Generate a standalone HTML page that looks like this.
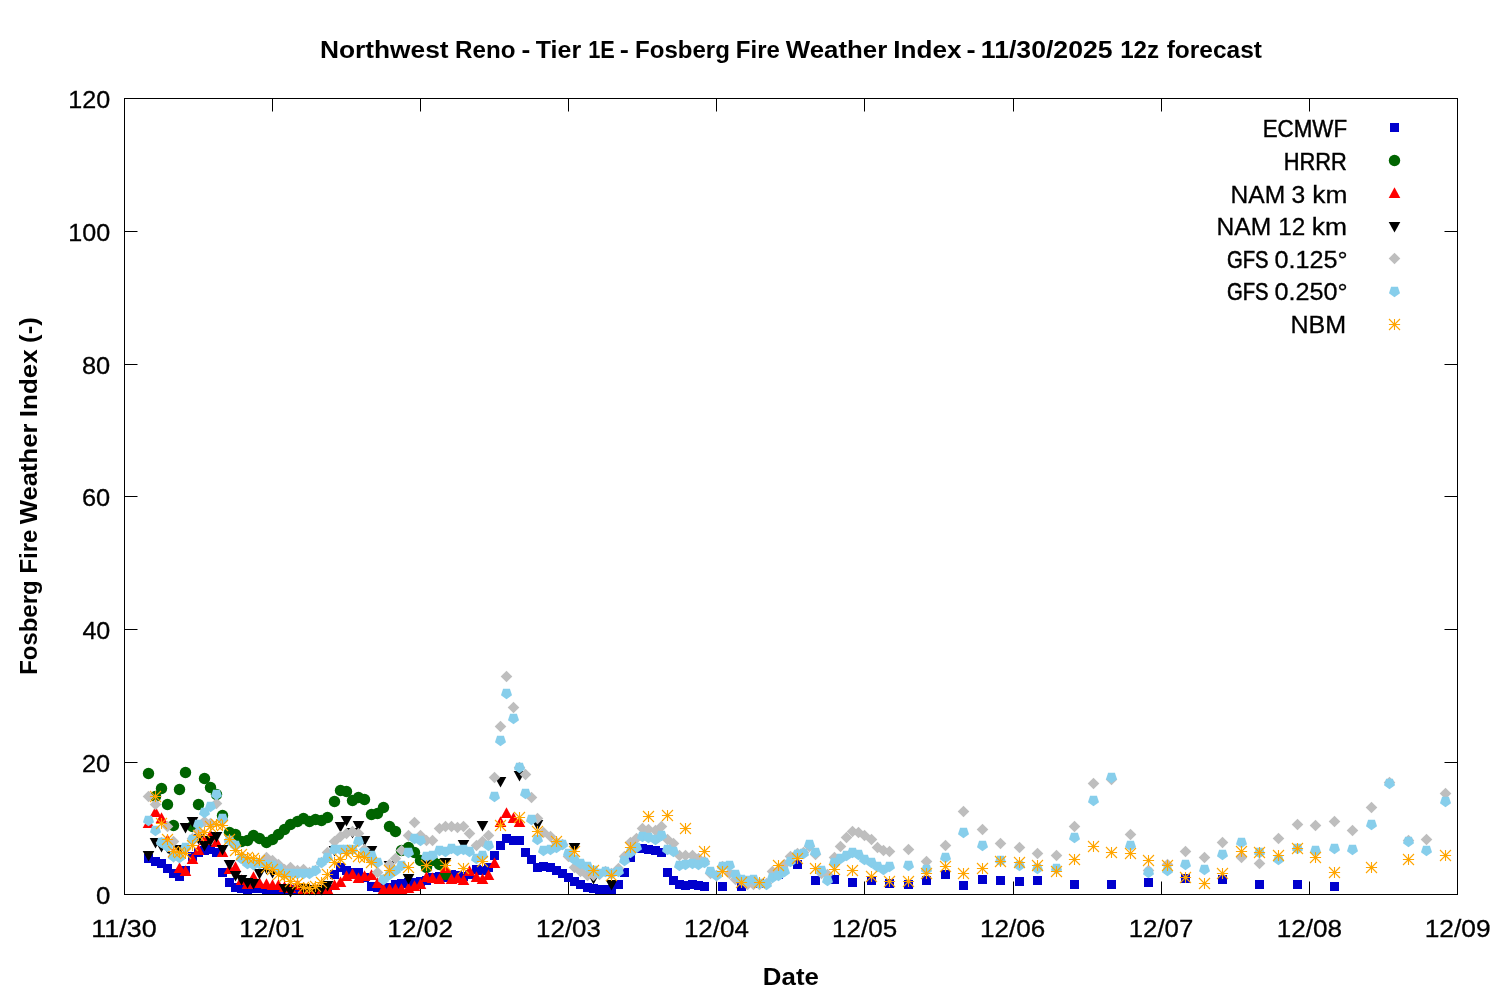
<!DOCTYPE html>
<html lang="en"><head><meta charset="utf-8"><title>Northwest Reno - Tier 1E - Fosberg Fire Weather Index</title>
<style>html,body{margin:0;padding:0;background:#fff;}body{width:1500px;height:1000px;overflow:hidden;}svg{display:block;}text{font-family:"Liberation Sans",sans-serif;fill:#000;stroke:#000;stroke-width:0.3px;}.b{font-weight:bold;stroke:none;}</style></head><body>
<svg width="1500" height="1000" viewBox="0 0 1500 1000">
<rect width="1500" height="1000" fill="#fff"/>
<text class="b" y="58.4" font-size="23.5"><tspan x="319.94" textLength="128.7" lengthAdjust="spacingAndGlyphs">Northwest</tspan> <tspan x="455.08" textLength="60.42" lengthAdjust="spacingAndGlyphs">Reno</tspan> <tspan x="521.5" textLength="8.81" lengthAdjust="spacingAndGlyphs">-</tspan> <tspan x="535.8" textLength="45.3" lengthAdjust="spacingAndGlyphs">Tier</tspan> <tspan x="588.2" textLength="26.62" lengthAdjust="spacingAndGlyphs">1E</tspan> <tspan x="619.8" textLength="9.11" lengthAdjust="spacingAndGlyphs">-</tspan> <tspan x="635.08" textLength="94.83" lengthAdjust="spacingAndGlyphs">Fosberg</tspan> <tspan x="735.89" textLength="43.97" lengthAdjust="spacingAndGlyphs">Fire</tspan> <tspan x="785.8" textLength="101.42" lengthAdjust="spacingAndGlyphs">Weather</tspan> <tspan x="893.24" textLength="68.27" lengthAdjust="spacingAndGlyphs">Index</tspan> <tspan x="966.5" textLength="9.11" lengthAdjust="spacingAndGlyphs">-</tspan> <tspan x="980.82" textLength="131.77" lengthAdjust="spacingAndGlyphs">11/30/2025</tspan> <tspan x="1120.17" textLength="38.85" lengthAdjust="spacingAndGlyphs">12z</tspan> <tspan x="1166.7" textLength="95.22" lengthAdjust="spacingAndGlyphs">forecast</tspan></text>
<text class="b" transform="rotate(-90)" y="36.8" font-size="23.5"><tspan x="-674.81" textLength="94.39" lengthAdjust="spacingAndGlyphs">Fosberg</tspan> <tspan x="-573.61" textLength="43.97" lengthAdjust="spacingAndGlyphs">Fire</tspan> <tspan x="-524.2" textLength="100.66" lengthAdjust="spacingAndGlyphs">Weather</tspan> <tspan x="-417.15" textLength="67.89" lengthAdjust="spacingAndGlyphs">Index</tspan> <tspan x="-342.9" textLength="25.58" lengthAdjust="spacingAndGlyphs">(-)</tspan></text>
<text class="b" y="985.3" font-size="23.5"><tspan x="762.86" textLength="56" lengthAdjust="spacingAndGlyphs">Date</tspan></text>
<text y="903.7" font-size="24.6"><tspan x="96" textLength="14.36" lengthAdjust="spacingAndGlyphs">0</tspan></text>
<text y="771.7" font-size="24.6"><tspan x="82" textLength="28.23" lengthAdjust="spacingAndGlyphs">20</tspan></text>
<text y="638.7" font-size="24.6"><tspan x="82.42" textLength="27.86" lengthAdjust="spacingAndGlyphs">40</tspan></text>
<text y="505.7" font-size="24.6"><tspan x="82" textLength="28.23" lengthAdjust="spacingAndGlyphs">60</tspan></text>
<text y="373.7" font-size="24.6"><tspan x="82" textLength="28.23" lengthAdjust="spacingAndGlyphs">80</tspan></text>
<text y="240.7" font-size="24.6"><tspan x="68.34" textLength="41.89" lengthAdjust="spacingAndGlyphs">100</tspan></text>
<text y="107.7" font-size="24.6"><tspan x="68.34" textLength="41.89" lengthAdjust="spacingAndGlyphs">120</tspan></text>
<text y="936.5" font-size="24.6"><tspan x="91.3" textLength="65.52" lengthAdjust="spacingAndGlyphs">11/30</tspan></text>
<text y="936.5" font-size="24.6"><tspan x="239.39" textLength="65.2" lengthAdjust="spacingAndGlyphs">12/01</tspan></text>
<text y="936.5" font-size="24.6"><tspan x="387.3" textLength="65.7" lengthAdjust="spacingAndGlyphs">12/02</tspan></text>
<text y="936.5" font-size="24.6"><tspan x="536.13" textLength="64.71" lengthAdjust="spacingAndGlyphs">12/03</tspan></text>
<text y="936.5" font-size="24.6"><tspan x="683.92" textLength="65.09" lengthAdjust="spacingAndGlyphs">12/04</tspan></text>
<text y="936.5" font-size="24.6"><tspan x="832.12" textLength="65.11" lengthAdjust="spacingAndGlyphs">12/05</tspan></text>
<text y="936.5" font-size="24.6"><tspan x="979.91" textLength="65.34" lengthAdjust="spacingAndGlyphs">12/06</tspan></text>
<text y="936.5" font-size="24.6"><tspan x="1128.74" textLength="64.54" lengthAdjust="spacingAndGlyphs">12/07</tspan></text>
<text y="936.5" font-size="24.6"><tspan x="1276.71" textLength="65.31" lengthAdjust="spacingAndGlyphs">12/08</tspan></text>
<text y="936.5" font-size="24.6"><tspan x="1424.7" textLength="65.85" lengthAdjust="spacingAndGlyphs">12/09</tspan></text>
<text y="137" font-size="24.6"><tspan x="1262.67" textLength="84.48" lengthAdjust="spacingAndGlyphs" stroke-width="0.45">ECMWF</tspan></text>
<rect x="1390" y="123" width="9" height="9" fill="#0000cd"/>
<text y="169.8" font-size="24.6"><tspan x="1283.71" textLength="63.1" lengthAdjust="spacingAndGlyphs" stroke-width="0.48">HRRR</tspan></text>
<circle cx="1394.5" cy="160.5" r="5.7" fill="#006400"/>
<text y="202.5" font-size="24.6"><tspan x="1230.5" textLength="54.66" lengthAdjust="spacingAndGlyphs">NAM</tspan> <tspan x="1291.5" textLength="13.69" lengthAdjust="spacingAndGlyphs">3</tspan> <tspan x="1312.23" textLength="35.13" lengthAdjust="spacingAndGlyphs">km</tspan></text>
<path d="M1394.5 187.3L1400.3 198L1388.7 198Z" fill="#ff0000"/>
<text y="234.9" font-size="24.6"><tspan x="1216.5" textLength="54.66" lengthAdjust="spacingAndGlyphs">NAM</tspan> <tspan x="1278.15" textLength="27.01" lengthAdjust="spacingAndGlyphs">12</tspan> <tspan x="1311.72" textLength="35.29" lengthAdjust="spacingAndGlyphs">km</tspan></text>
<path d="M1394.5 232.5L1400.3 221.9L1388.7 221.9Z" fill="#000000"/>
<text y="267.5" font-size="24.6"><tspan x="1227" textLength="41.54" lengthAdjust="spacingAndGlyphs" stroke-width="0.59">GFS</tspan> <tspan x="1274.5" textLength="73.17" lengthAdjust="spacingAndGlyphs">0.125°</tspan></text>
<path d="M1394.5 252.7L1400.3 258.5L1394.5 264.3L1388.7 258.5Z" fill="#bebebe"/>
<text y="300" font-size="24.6"><tspan x="1227" textLength="41.54" lengthAdjust="spacingAndGlyphs" stroke-width="0.59">GFS</tspan> <tspan x="1274.5" textLength="73.17" lengthAdjust="spacingAndGlyphs">0.250°</tspan></text>
<path d="M1394.5 297.3L1388.98 293.29L1391.09 286.81L1397.91 286.81L1400.02 293.29Z" fill="#87ceeb"/>
<text y="333" font-size="24.6"><tspan x="1290.5" textLength="55.73" lengthAdjust="spacingAndGlyphs">NBM</tspan></text>
<path d="M1388.9 324.5h11.2M1394.5 318.9v11.2M1389 319l11 11M1389 330l11 -11" stroke="#ffa500" stroke-width="1.1" fill="none"/>
<g stroke="#000" stroke-width="1" fill="none"><path d="M124.5 762.5h13M1457.5 762.5h-13"/><path d="M124.5 629.5h13M1457.5 629.5h-13"/><path d="M124.5 496.5h13M1457.5 496.5h-13"/><path d="M124.5 364.5h13M1457.5 364.5h-13"/><path d="M124.5 231.5h13M1457.5 231.5h-13"/><path d="M272.5 894.5v-13M272.5 98.5v13"/><path d="M420.5 894.5v-13M420.5 98.5v13"/><path d="M568.5 894.5v-13M568.5 98.5v13"/><path d="M716.5 894.5v-13M716.5 98.5v13"/><path d="M864.5 894.5v-13M864.5 98.5v13"/><path d="M1013.5 894.5v-13M1013.5 98.5v13"/><path d="M1161.5 894.5v-13M1161.5 98.5v13"/><path d="M1309.5 894.5v-13M1309.5 98.5v13"/></g>
<rect x="124.5" y="98.5" width="1333" height="796" fill="none" stroke="#000" stroke-width="1" shape-rendering="crispEdges"/>
<g><rect x="144" y="854" width="9" height="9" fill="#0000cd"/><rect x="151" y="857" width="9" height="9" fill="#0000cd"/><rect x="157" y="859" width="9" height="9" fill="#0000cd"/><rect x="163" y="864" width="9" height="9" fill="#0000cd"/><rect x="169" y="869" width="9" height="9" fill="#0000cd"/><rect x="175" y="872" width="9" height="9" fill="#0000cd"/><rect x="181" y="866" width="9" height="9" fill="#0000cd"/><rect x="188" y="852" width="9" height="9" fill="#0000cd"/><rect x="194" y="848" width="9" height="9" fill="#0000cd"/><rect x="200" y="846" width="9" height="9" fill="#0000cd"/><rect x="206" y="845" width="9" height="9" fill="#0000cd"/><rect x="212" y="848" width="9" height="9" fill="#0000cd"/><rect x="218" y="868" width="9" height="9" fill="#0000cd"/><rect x="225" y="878" width="9" height="9" fill="#0000cd"/><rect x="231" y="883" width="9" height="9" fill="#0000cd"/><rect x="237" y="884" width="9" height="9" fill="#0000cd"/><rect x="243" y="885" width="9" height="9" fill="#0000cd"/><rect x="249" y="884" width="9" height="9" fill="#0000cd"/><rect x="255" y="884" width="9" height="9" fill="#0000cd"/><rect x="262" y="885" width="9" height="9" fill="#0000cd"/><rect x="268" y="885" width="9" height="9" fill="#0000cd"/><rect x="274" y="885" width="9" height="9" fill="#0000cd"/><rect x="280" y="885" width="9" height="9" fill="#0000cd"/><rect x="286" y="885" width="9" height="9" fill="#0000cd"/><rect x="293" y="885" width="9" height="9" fill="#0000cd"/><rect x="299" y="885" width="9" height="9" fill="#0000cd"/><rect x="305" y="885" width="9" height="9" fill="#0000cd"/><rect x="311" y="885" width="9" height="9" fill="#0000cd"/><rect x="317" y="885" width="9" height="9" fill="#0000cd"/><rect x="323" y="885" width="9" height="9" fill="#0000cd"/><rect x="330" y="870" width="9" height="9" fill="#0000cd"/><rect x="336" y="863" width="9" height="9" fill="#0000cd"/><rect x="342" y="866" width="9" height="9" fill="#0000cd"/><rect x="348" y="868" width="9" height="9" fill="#0000cd"/><rect x="354" y="868" width="9" height="9" fill="#0000cd"/><rect x="360" y="873" width="9" height="9" fill="#0000cd"/><rect x="367" y="882" width="9" height="9" fill="#0000cd"/><rect x="373" y="883" width="9" height="9" fill="#0000cd"/><rect x="379" y="884" width="9" height="9" fill="#0000cd"/><rect x="385" y="883" width="9" height="9" fill="#0000cd"/><rect x="391" y="880" width="9" height="9" fill="#0000cd"/><rect x="397" y="879" width="9" height="9" fill="#0000cd"/><rect x="404" y="878" width="9" height="9" fill="#0000cd"/><rect x="410" y="878" width="9" height="9" fill="#0000cd"/><rect x="416" y="877" width="9" height="9" fill="#0000cd"/><rect x="422" y="876" width="9" height="9" fill="#0000cd"/><rect x="428" y="873" width="9" height="9" fill="#0000cd"/><rect x="435" y="872" width="9" height="9" fill="#0000cd"/><rect x="441" y="873" width="9" height="9" fill="#0000cd"/><rect x="447" y="870" width="9" height="9" fill="#0000cd"/><rect x="453" y="871" width="9" height="9" fill="#0000cd"/><rect x="459" y="872" width="9" height="9" fill="#0000cd"/><rect x="465" y="870" width="9" height="9" fill="#0000cd"/><rect x="472" y="865" width="9" height="9" fill="#0000cd"/><rect x="478" y="866" width="9" height="9" fill="#0000cd"/><rect x="484" y="863" width="9" height="9" fill="#0000cd"/><rect x="490" y="851" width="9" height="9" fill="#0000cd"/><rect x="496" y="841" width="9" height="9" fill="#0000cd"/><rect x="502" y="834" width="9" height="9" fill="#0000cd"/><rect x="509" y="836" width="9" height="9" fill="#0000cd"/><rect x="515" y="836" width="9" height="9" fill="#0000cd"/><rect x="521" y="848" width="9" height="9" fill="#0000cd"/><rect x="527" y="855" width="9" height="9" fill="#0000cd"/><rect x="533" y="863" width="9" height="9" fill="#0000cd"/><rect x="539" y="862" width="9" height="9" fill="#0000cd"/><rect x="546" y="863" width="9" height="9" fill="#0000cd"/><rect x="552" y="866" width="9" height="9" fill="#0000cd"/><rect x="558" y="869" width="9" height="9" fill="#0000cd"/><rect x="564" y="873" width="9" height="9" fill="#0000cd"/><rect x="570" y="877" width="9" height="9" fill="#0000cd"/><rect x="576" y="880" width="9" height="9" fill="#0000cd"/><rect x="583" y="883" width="9" height="9" fill="#0000cd"/><rect x="589" y="884" width="9" height="9" fill="#0000cd"/><rect x="595" y="885" width="9" height="9" fill="#0000cd"/><rect x="601" y="885" width="9" height="9" fill="#0000cd"/><rect x="607" y="885" width="9" height="9" fill="#0000cd"/><rect x="614" y="880" width="9" height="9" fill="#0000cd"/><rect x="620" y="868" width="9" height="9" fill="#0000cd"/><rect x="626" y="853" width="9" height="9" fill="#0000cd"/><rect x="632" y="844" width="9" height="9" fill="#0000cd"/><rect x="638" y="844" width="9" height="9" fill="#0000cd"/><rect x="644" y="845" width="9" height="9" fill="#0000cd"/><rect x="651" y="846" width="9" height="9" fill="#0000cd"/><rect x="657" y="848" width="9" height="9" fill="#0000cd"/><rect x="663" y="868" width="9" height="9" fill="#0000cd"/><rect x="669" y="876" width="9" height="9" fill="#0000cd"/><rect x="675" y="880" width="9" height="9" fill="#0000cd"/><rect x="681" y="881" width="9" height="9" fill="#0000cd"/><rect x="688" y="880" width="9" height="9" fill="#0000cd"/><rect x="694" y="881" width="9" height="9" fill="#0000cd"/><rect x="700" y="882" width="9" height="9" fill="#0000cd"/><rect x="718" y="882" width="9" height="9" fill="#0000cd"/><rect x="737" y="882" width="9" height="9" fill="#0000cd"/><rect x="755" y="879" width="9" height="9" fill="#0000cd"/><rect x="774" y="870" width="9" height="9" fill="#0000cd"/><rect x="793" y="860" width="9" height="9" fill="#0000cd"/><rect x="811" y="876" width="9" height="9" fill="#0000cd"/><rect x="830" y="875" width="9" height="9" fill="#0000cd"/><rect x="848" y="878" width="9" height="9" fill="#0000cd"/><rect x="867" y="876" width="9" height="9" fill="#0000cd"/><rect x="885" y="879" width="9" height="9" fill="#0000cd"/><rect x="904" y="880" width="9" height="9" fill="#0000cd"/><rect x="922" y="876" width="9" height="9" fill="#0000cd"/><rect x="941" y="870" width="9" height="9" fill="#0000cd"/><rect x="959" y="881" width="9" height="9" fill="#0000cd"/><rect x="978" y="875" width="9" height="9" fill="#0000cd"/><rect x="996" y="876" width="9" height="9" fill="#0000cd"/><rect x="1015" y="877" width="9" height="9" fill="#0000cd"/><rect x="1033" y="876" width="9" height="9" fill="#0000cd"/><rect x="1070" y="880" width="9" height="9" fill="#0000cd"/><rect x="1107" y="880" width="9" height="9" fill="#0000cd"/><rect x="1144" y="878" width="9" height="9" fill="#0000cd"/><rect x="1181" y="874" width="9" height="9" fill="#0000cd"/><rect x="1218" y="875" width="9" height="9" fill="#0000cd"/><rect x="1255" y="880" width="9" height="9" fill="#0000cd"/><rect x="1293" y="880" width="9" height="9" fill="#0000cd"/><rect x="1330" y="882" width="9" height="9" fill="#0000cd"/></g>
<g><circle cx="148.5" cy="773.5" r="5.7" fill="#006400"/><circle cx="155.5" cy="796.5" r="5.7" fill="#006400"/><circle cx="161.5" cy="788.5" r="5.7" fill="#006400"/><circle cx="167.5" cy="804.5" r="5.7" fill="#006400"/><circle cx="173.5" cy="825.5" r="5.7" fill="#006400"/><circle cx="179.5" cy="789.5" r="5.7" fill="#006400"/><circle cx="185.5" cy="772.5" r="5.7" fill="#006400"/><circle cx="192.5" cy="826.5" r="5.7" fill="#006400"/><circle cx="198.5" cy="804.5" r="5.7" fill="#006400"/><circle cx="204.5" cy="778.5" r="5.7" fill="#006400"/><circle cx="210.5" cy="787.5" r="5.7" fill="#006400"/><circle cx="216.5" cy="794.5" r="5.7" fill="#006400"/><circle cx="222.5" cy="815.5" r="5.7" fill="#006400"/><circle cx="229.5" cy="832.5" r="5.7" fill="#006400"/><circle cx="235.5" cy="834.5" r="5.7" fill="#006400"/><circle cx="241.5" cy="841.5" r="5.7" fill="#006400"/><circle cx="247.5" cy="840.5" r="5.7" fill="#006400"/><circle cx="253.5" cy="835.5" r="5.7" fill="#006400"/><circle cx="259.5" cy="838.5" r="5.7" fill="#006400"/><circle cx="266.5" cy="842.5" r="5.7" fill="#006400"/><circle cx="272.5" cy="839.5" r="5.7" fill="#006400"/><circle cx="278.5" cy="834.5" r="5.7" fill="#006400"/><circle cx="284.5" cy="829.5" r="5.7" fill="#006400"/><circle cx="290.5" cy="824.5" r="5.7" fill="#006400"/><circle cx="297.5" cy="821.5" r="5.7" fill="#006400"/><circle cx="303.5" cy="818.5" r="5.7" fill="#006400"/><circle cx="309.5" cy="821.5" r="5.7" fill="#006400"/><circle cx="315.5" cy="819.5" r="5.7" fill="#006400"/><circle cx="321.5" cy="820.5" r="5.7" fill="#006400"/><circle cx="327.5" cy="817.5" r="5.7" fill="#006400"/><circle cx="334.5" cy="801.5" r="5.7" fill="#006400"/><circle cx="340.5" cy="790.5" r="5.7" fill="#006400"/><circle cx="346.5" cy="791.5" r="5.7" fill="#006400"/><circle cx="352.5" cy="800.5" r="5.7" fill="#006400"/><circle cx="358.5" cy="797.5" r="5.7" fill="#006400"/><circle cx="364.5" cy="799.5" r="5.7" fill="#006400"/><circle cx="371.5" cy="814.5" r="5.7" fill="#006400"/><circle cx="377.5" cy="813.5" r="5.7" fill="#006400"/><circle cx="383.5" cy="807.5" r="5.7" fill="#006400"/><circle cx="389.5" cy="826.5" r="5.7" fill="#006400"/><circle cx="395.5" cy="831.5" r="5.7" fill="#006400"/><circle cx="401.5" cy="850.5" r="5.7" fill="#006400"/><circle cx="408.5" cy="847.5" r="5.7" fill="#006400"/><circle cx="414.5" cy="852.5" r="5.7" fill="#006400"/><circle cx="420.5" cy="860.5" r="5.7" fill="#006400"/><circle cx="426.5" cy="867.5" r="5.7" fill="#006400"/><circle cx="432.5" cy="860.5" r="5.7" fill="#006400"/><circle cx="439.5" cy="864.5" r="5.7" fill="#006400"/><circle cx="445.5" cy="874.5" r="5.7" fill="#006400"/></g>
<g><path d="M148.5 817.3L154.3 828L142.7 828Z" fill="#ff0000"/><path d="M155.5 806.3L161.3 817L149.7 817Z" fill="#ff0000"/><path d="M161.5 812.3L167.3 823L155.7 823Z" fill="#ff0000"/><path d="M167.5 834.3L173.3 845L161.7 845Z" fill="#ff0000"/><path d="M173.5 847.3L179.3 858L167.7 858Z" fill="#ff0000"/><path d="M179.5 862.3L185.3 873L173.7 873Z" fill="#ff0000"/><path d="M185.5 865.3L191.3 876L179.7 876Z" fill="#ff0000"/><path d="M192.5 853.3L198.3 864L186.7 864Z" fill="#ff0000"/><path d="M198.5 844.3L204.3 855L192.7 855Z" fill="#ff0000"/><path d="M204.5 834.3L210.3 845L198.7 845Z" fill="#ff0000"/><path d="M210.5 829.3L216.3 840L204.7 840Z" fill="#ff0000"/><path d="M216.5 836.3L222.3 847L210.7 847Z" fill="#ff0000"/><path d="M222.5 846.3L228.3 857L216.7 857Z" fill="#ff0000"/><path d="M229.5 863.3L235.3 874L223.7 874Z" fill="#ff0000"/><path d="M235.5 861.3L241.3 872L229.7 872Z" fill="#ff0000"/><path d="M241.5 874.3L247.3 885L235.7 885Z" fill="#ff0000"/><path d="M247.5 878.3L253.3 889L241.7 889Z" fill="#ff0000"/><path d="M253.5 871.3L259.3 882L247.7 882Z" fill="#ff0000"/><path d="M259.5 877.3L265.3 888L253.7 888Z" fill="#ff0000"/><path d="M266.5 878.3L272.3 889L260.7 889Z" fill="#ff0000"/><path d="M272.5 879.3L278.3 890L266.7 890Z" fill="#ff0000"/><path d="M278.5 879.3L284.3 890L272.7 890Z" fill="#ff0000"/><path d="M284.5 881.3L290.3 892L278.7 892Z" fill="#ff0000"/><path d="M290.5 882.3L296.3 893L284.7 893Z" fill="#ff0000"/><path d="M297.5 879.3L303.3 890L291.7 890Z" fill="#ff0000"/><path d="M303.5 883.3L309.3 894L297.7 894Z" fill="#ff0000"/><path d="M309.5 883.3L315.3 894L303.7 894Z" fill="#ff0000"/><path d="M315.5 883.3L321.3 894L309.7 894Z" fill="#ff0000"/><path d="M321.5 883.3L327.3 894L315.7 894Z" fill="#ff0000"/><path d="M327.5 883.3L333.3 894L321.7 894Z" fill="#ff0000"/><path d="M334.5 879.3L340.3 890L328.7 890Z" fill="#ff0000"/><path d="M340.5 876.3L346.3 887L334.7 887Z" fill="#ff0000"/><path d="M346.5 870.3L352.3 881L340.7 881Z" fill="#ff0000"/><path d="M352.5 868.3L358.3 879L346.7 879Z" fill="#ff0000"/><path d="M358.5 872.3L364.3 883L352.7 883Z" fill="#ff0000"/><path d="M364.5 870.3L370.3 881L358.7 881Z" fill="#ff0000"/><path d="M371.5 869.3L377.3 880L365.7 880Z" fill="#ff0000"/><path d="M377.5 877.3L383.3 888L371.7 888Z" fill="#ff0000"/><path d="M383.5 883.3L389.3 894L377.7 894Z" fill="#ff0000"/><path d="M389.5 883.3L395.3 894L383.7 894Z" fill="#ff0000"/><path d="M395.5 883.3L401.3 894L389.7 894Z" fill="#ff0000"/><path d="M401.5 883.3L407.3 894L395.7 894Z" fill="#ff0000"/><path d="M408.5 882.3L414.3 893L402.7 893Z" fill="#ff0000"/><path d="M414.5 880.3L420.3 891L408.7 891Z" fill="#ff0000"/><path d="M420.5 878.3L426.3 889L414.7 889Z" fill="#ff0000"/><path d="M426.5 871.3L432.3 882L420.7 882Z" fill="#ff0000"/><path d="M432.5 872.3L438.3 883L426.7 883Z" fill="#ff0000"/><path d="M439.5 873.3L445.3 884L433.7 884Z" fill="#ff0000"/><path d="M445.5 862.3L451.3 873L439.7 873Z" fill="#ff0000"/><path d="M451.5 873.3L457.3 884L445.7 884Z" fill="#ff0000"/><path d="M457.5 872.3L463.3 883L451.7 883Z" fill="#ff0000"/><path d="M463.5 874.3L469.3 885L457.7 885Z" fill="#ff0000"/><path d="M469.5 865.3L475.3 876L463.7 876Z" fill="#ff0000"/><path d="M476.5 871.3L482.3 882L470.7 882Z" fill="#ff0000"/><path d="M482.5 873.3L488.3 884L476.7 884Z" fill="#ff0000"/><path d="M488.5 869.3L494.3 880L482.7 880Z" fill="#ff0000"/><path d="M494.5 857.3L500.3 868L488.7 868Z" fill="#ff0000"/><path d="M500.5 816.3L506.3 827L494.7 827Z" fill="#ff0000"/><path d="M506.5 807.3L512.3 818L500.7 818Z" fill="#ff0000"/><path d="M513.5 812.3L519.3 823L507.7 823Z" fill="#ff0000"/><path d="M519.5 816.3L525.3 827L513.7 827Z" fill="#ff0000"/></g>
<g><path d="M148.5 861.5L154.3 850.9L142.7 850.9Z" fill="#000000"/><path d="M155.5 848.5L161.3 837.9L149.7 837.9Z" fill="#000000"/><path d="M161.5 852.5L167.3 841.9L155.7 841.9Z" fill="#000000"/><path d="M167.5 853.5L173.3 842.9L161.7 842.9Z" fill="#000000"/><path d="M173.5 862.5L179.3 851.9L167.7 851.9Z" fill="#000000"/><path d="M179.5 855.5L185.3 844.9L173.7 844.9Z" fill="#000000"/><path d="M185.5 833.5L191.3 822.9L179.7 822.9Z" fill="#000000"/><path d="M192.5 827.5L198.3 816.9L186.7 816.9Z" fill="#000000"/><path d="M198.5 844.5L204.3 833.9L192.7 833.9Z" fill="#000000"/><path d="M204.5 851.5L210.3 840.9L198.7 840.9Z" fill="#000000"/><path d="M210.5 846.5L216.3 835.9L204.7 835.9Z" fill="#000000"/><path d="M216.5 842.5L222.3 831.9L210.7 831.9Z" fill="#000000"/><path d="M222.5 855.5L228.3 844.9L216.7 844.9Z" fill="#000000"/><path d="M229.5 870.5L235.3 859.9L223.7 859.9Z" fill="#000000"/><path d="M235.5 881.5L241.3 870.9L229.7 870.9Z" fill="#000000"/><path d="M241.5 885.5L247.3 874.9L235.7 874.9Z" fill="#000000"/><path d="M247.5 888.5L253.3 877.9L241.7 877.9Z" fill="#000000"/><path d="M253.5 889.5L259.3 878.9L247.7 878.9Z" fill="#000000"/><path d="M259.5 879.5L265.3 868.9L253.7 868.9Z" fill="#000000"/><path d="M266.5 874.5L272.3 863.9L260.7 863.9Z" fill="#000000"/><path d="M272.5 878.5L278.3 867.9L266.7 867.9Z" fill="#000000"/><path d="M278.5 874.5L284.3 863.9L272.7 863.9Z" fill="#000000"/><path d="M284.5 894.5L290.3 883.9L278.7 883.9Z" fill="#000000"/><path d="M290.5 897.5L296.3 886.9L284.7 886.9Z" fill="#000000"/><path d="M303.5 894.5L309.3 883.9L297.7 883.9Z" fill="#000000"/><path d="M309.5 895.5L315.3 884.9L303.7 884.9Z" fill="#000000"/><path d="M315.5 895.5L321.3 884.9L309.7 884.9Z" fill="#000000"/><path d="M321.5 895.5L327.3 884.9L315.7 884.9Z" fill="#000000"/><path d="M327.5 891.5L333.3 880.9L321.7 880.9Z" fill="#000000"/><path d="M334.5 856.5L340.3 845.9L328.7 845.9Z" fill="#000000"/><path d="M340.5 832.5L346.3 821.9L334.7 821.9Z" fill="#000000"/><path d="M346.5 826.5L352.3 815.9L340.7 815.9Z" fill="#000000"/><path d="M352.5 838.5L358.3 827.9L346.7 827.9Z" fill="#000000"/><path d="M358.5 831.5L364.3 820.9L352.7 820.9Z" fill="#000000"/><path d="M364.5 846.5L370.3 835.9L358.7 835.9Z" fill="#000000"/><path d="M371.5 856.5L377.3 845.9L365.7 845.9Z" fill="#000000"/><path d="M389.5 871.5L395.3 860.9L383.7 860.9Z" fill="#000000"/><path d="M408.5 884.5L414.3 873.9L402.7 873.9Z" fill="#000000"/><path d="M426.5 866.5L432.3 855.9L420.7 855.9Z" fill="#000000"/><path d="M445.5 868.5L451.3 857.9L439.7 857.9Z" fill="#000000"/><path d="M463.5 850.5L469.3 839.9L457.7 839.9Z" fill="#000000"/><path d="M482.5 831.5L488.3 820.9L476.7 820.9Z" fill="#000000"/><path d="M500.5 787.5L506.3 776.9L494.7 776.9Z" fill="#000000"/><path d="M519.5 781.5L525.3 770.9L513.7 770.9Z" fill="#000000"/><path d="M537.5 830.5L543.3 819.9L531.7 819.9Z" fill="#000000"/><path d="M556.5 851.5L562.3 840.9L550.7 840.9Z" fill="#000000"/><path d="M574.5 853.5L580.3 842.9L568.7 842.9Z" fill="#000000"/><path d="M593.5 884.5L599.3 873.9L587.7 873.9Z" fill="#000000"/><path d="M611.5 890.5L617.3 879.9L605.7 879.9Z" fill="#000000"/></g>
<g><path d="M148.5 790.7L154.3 796.5L148.5 802.3L142.7 796.5Z" fill="#bebebe"/><path d="M155.5 798.7L161.3 804.5L155.5 810.3L149.7 804.5Z" fill="#bebebe"/><path d="M161.5 836.7L167.3 842.5L161.5 848.3L155.7 842.5Z" fill="#bebebe"/><path d="M167.5 820.7L173.3 826.5L167.5 832.3L161.7 826.5Z" fill="#bebebe"/><path d="M173.5 835.7L179.3 841.5L173.5 847.3L167.7 841.5Z" fill="#bebebe"/><path d="M179.5 851.7L185.3 857.5L179.5 863.3L173.7 857.5Z" fill="#bebebe"/><path d="M185.5 842.7L191.3 848.5L185.5 854.3L179.7 848.5Z" fill="#bebebe"/><path d="M192.5 832.7L198.3 838.5L192.5 844.3L186.7 838.5Z" fill="#bebebe"/><path d="M198.5 825.7L204.3 831.5L198.5 837.3L192.7 831.5Z" fill="#bebebe"/><path d="M204.5 815.7L210.3 821.5L204.5 827.3L198.7 821.5Z" fill="#bebebe"/><path d="M210.5 817.7L216.3 823.5L210.5 829.3L204.7 823.5Z" fill="#bebebe"/><path d="M216.5 797.7L222.3 803.5L216.5 809.3L210.7 803.5Z" fill="#bebebe"/><path d="M222.5 813.7L228.3 819.5L222.5 825.3L216.7 819.5Z" fill="#bebebe"/><path d="M229.5 834.7L235.3 840.5L229.5 846.3L223.7 840.5Z" fill="#bebebe"/><path d="M235.5 839.7L241.3 845.5L235.5 851.3L229.7 845.5Z" fill="#bebebe"/><path d="M241.5 852.7L247.3 858.5L241.5 864.3L235.7 858.5Z" fill="#bebebe"/><path d="M247.5 857.7L253.3 863.5L247.5 869.3L241.7 863.5Z" fill="#bebebe"/><path d="M253.5 858.7L259.3 864.5L253.5 870.3L247.7 864.5Z" fill="#bebebe"/><path d="M259.5 857.7L265.3 863.5L259.5 869.3L253.7 863.5Z" fill="#bebebe"/><path d="M266.5 851.7L272.3 857.5L266.5 863.3L260.7 857.5Z" fill="#bebebe"/><path d="M272.5 854.7L278.3 860.5L272.5 866.3L266.7 860.5Z" fill="#bebebe"/><path d="M278.5 858.7L284.3 864.5L278.5 870.3L272.7 864.5Z" fill="#bebebe"/><path d="M284.5 863.7L290.3 869.5L284.5 875.3L278.7 869.5Z" fill="#bebebe"/><path d="M290.5 861.7L296.3 867.5L290.5 873.3L284.7 867.5Z" fill="#bebebe"/><path d="M297.5 864.7L303.3 870.5L297.5 876.3L291.7 870.5Z" fill="#bebebe"/><path d="M303.5 863.7L309.3 869.5L303.5 875.3L297.7 869.5Z" fill="#bebebe"/><path d="M309.5 866.7L315.3 872.5L309.5 878.3L303.7 872.5Z" fill="#bebebe"/><path d="M315.5 864.7L321.3 870.5L315.5 876.3L309.7 870.5Z" fill="#bebebe"/><path d="M321.5 856.7L327.3 862.5L321.5 868.3L315.7 862.5Z" fill="#bebebe"/><path d="M327.5 846.7L333.3 852.5L327.5 858.3L321.7 852.5Z" fill="#bebebe"/><path d="M334.5 835.7L340.3 841.5L334.5 847.3L328.7 841.5Z" fill="#bebebe"/><path d="M340.5 830.7L346.3 836.5L340.5 842.3L334.7 836.5Z" fill="#bebebe"/><path d="M346.5 827.7L352.3 833.5L346.5 839.3L340.7 833.5Z" fill="#bebebe"/><path d="M352.5 825.7L358.3 831.5L352.5 837.3L346.7 831.5Z" fill="#bebebe"/><path d="M358.5 827.7L364.3 833.5L358.5 839.3L352.7 833.5Z" fill="#bebebe"/><path d="M364.5 843.7L370.3 849.5L364.5 855.3L358.7 849.5Z" fill="#bebebe"/><path d="M371.5 854.7L377.3 860.5L371.5 866.3L365.7 860.5Z" fill="#bebebe"/><path d="M377.5 866.7L383.3 872.5L377.5 878.3L371.7 872.5Z" fill="#bebebe"/><path d="M383.5 873.7L389.3 879.5L383.5 885.3L377.7 879.5Z" fill="#bebebe"/><path d="M389.5 858.7L395.3 864.5L389.5 870.3L383.7 864.5Z" fill="#bebebe"/><path d="M395.5 852.7L401.3 858.5L395.5 864.3L389.7 858.5Z" fill="#bebebe"/><path d="M401.5 844.7L407.3 850.5L401.5 856.3L395.7 850.5Z" fill="#bebebe"/><path d="M408.5 829.7L414.3 835.5L408.5 841.3L402.7 835.5Z" fill="#bebebe"/><path d="M414.5 816.7L420.3 822.5L414.5 828.3L408.7 822.5Z" fill="#bebebe"/><path d="M420.5 829.7L426.3 835.5L420.5 841.3L414.7 835.5Z" fill="#bebebe"/><path d="M426.5 834.7L432.3 840.5L426.5 846.3L420.7 840.5Z" fill="#bebebe"/><path d="M432.5 834.7L438.3 840.5L432.5 846.3L426.7 840.5Z" fill="#bebebe"/><path d="M439.5 822.7L445.3 828.5L439.5 834.3L433.7 828.5Z" fill="#bebebe"/><path d="M445.5 820.7L451.3 826.5L445.5 832.3L439.7 826.5Z" fill="#bebebe"/><path d="M451.5 820.7L457.3 826.5L451.5 832.3L445.7 826.5Z" fill="#bebebe"/><path d="M457.5 821.7L463.3 827.5L457.5 833.3L451.7 827.5Z" fill="#bebebe"/><path d="M463.5 820.7L469.3 826.5L463.5 832.3L457.7 826.5Z" fill="#bebebe"/><path d="M469.5 827.7L475.3 833.5L469.5 839.3L463.7 833.5Z" fill="#bebebe"/><path d="M476.5 839.7L482.3 845.5L476.5 851.3L470.7 845.5Z" fill="#bebebe"/><path d="M482.5 835.7L488.3 841.5L482.5 847.3L476.7 841.5Z" fill="#bebebe"/><path d="M488.5 829.7L494.3 835.5L488.5 841.3L482.7 835.5Z" fill="#bebebe"/><path d="M494.5 771.7L500.3 777.5L494.5 783.3L488.7 777.5Z" fill="#bebebe"/><path d="M500.5 720.7L506.3 726.5L500.5 732.3L494.7 726.5Z" fill="#bebebe"/><path d="M506.5 670.7L512.3 676.5L506.5 682.3L500.7 676.5Z" fill="#bebebe"/><path d="M513.5 701.7L519.3 707.5L513.5 713.3L507.7 707.5Z" fill="#bebebe"/><path d="M519.5 761.7L525.3 767.5L519.5 773.3L513.7 767.5Z" fill="#bebebe"/><path d="M525.5 768.7L531.3 774.5L525.5 780.3L519.7 774.5Z" fill="#bebebe"/><path d="M531.5 791.7L537.3 797.5L531.5 803.3L525.7 797.5Z" fill="#bebebe"/><path d="M537.5 812.7L543.3 818.5L537.5 824.3L531.7 818.5Z" fill="#bebebe"/><path d="M543.5 826.7L549.3 832.5L543.5 838.3L537.7 832.5Z" fill="#bebebe"/><path d="M550.5 830.7L556.3 836.5L550.5 842.3L544.7 836.5Z" fill="#bebebe"/><path d="M556.5 836.7L562.3 842.5L556.5 848.3L550.7 842.5Z" fill="#bebebe"/><path d="M562.5 838.7L568.3 844.5L562.5 850.3L556.7 844.5Z" fill="#bebebe"/><path d="M568.5 850.7L574.3 856.5L568.5 862.3L562.7 856.5Z" fill="#bebebe"/><path d="M574.5 861.7L580.3 867.5L574.5 873.3L568.7 867.5Z" fill="#bebebe"/><path d="M580.5 865.7L586.3 871.5L580.5 877.3L574.7 871.5Z" fill="#bebebe"/><path d="M587.5 869.7L593.3 875.5L587.5 881.3L581.7 875.5Z" fill="#bebebe"/><path d="M593.5 869.7L599.3 875.5L593.5 881.3L587.7 875.5Z" fill="#bebebe"/><path d="M599.5 868.7L605.3 874.5L599.5 880.3L593.7 874.5Z" fill="#bebebe"/><path d="M605.5 865.7L611.3 871.5L605.5 877.3L599.7 871.5Z" fill="#bebebe"/><path d="M611.5 867.7L617.3 873.5L611.5 879.3L605.7 873.5Z" fill="#bebebe"/><path d="M618.5 862.7L624.3 868.5L618.5 874.3L612.7 868.5Z" fill="#bebebe"/><path d="M624.5 850.7L630.3 856.5L624.5 862.3L618.7 856.5Z" fill="#bebebe"/><path d="M630.5 836.7L636.3 842.5L630.5 848.3L624.7 842.5Z" fill="#bebebe"/><path d="M636.5 832.7L642.3 838.5L636.5 844.3L630.7 838.5Z" fill="#bebebe"/><path d="M642.5 822.7L648.3 828.5L642.5 834.3L636.7 828.5Z" fill="#bebebe"/><path d="M648.5 823.7L654.3 829.5L648.5 835.3L642.7 829.5Z" fill="#bebebe"/><path d="M655.5 824.7L661.3 830.5L655.5 836.3L649.7 830.5Z" fill="#bebebe"/><path d="M661.5 820.7L667.3 826.5L661.5 832.3L655.7 826.5Z" fill="#bebebe"/><path d="M667.5 833.7L673.3 839.5L667.5 845.3L661.7 839.5Z" fill="#bebebe"/><path d="M673.5 837.7L679.3 843.5L673.5 849.3L667.7 843.5Z" fill="#bebebe"/><path d="M679.5 849.7L685.3 855.5L679.5 861.3L673.7 855.5Z" fill="#bebebe"/><path d="M685.5 849.7L691.3 855.5L685.5 861.3L679.7 855.5Z" fill="#bebebe"/><path d="M692.5 849.7L698.3 855.5L692.5 861.3L686.7 855.5Z" fill="#bebebe"/><path d="M698.5 852.7L704.3 858.5L698.5 864.3L692.7 858.5Z" fill="#bebebe"/><path d="M704.5 855.7L710.3 861.5L704.5 867.3L698.7 861.5Z" fill="#bebebe"/><path d="M710.5 867.7L716.3 873.5L710.5 879.3L704.7 873.5Z" fill="#bebebe"/><path d="M716.5 869.7L722.3 875.5L716.5 881.3L710.7 875.5Z" fill="#bebebe"/><path d="M722.5 860.7L728.3 866.5L722.5 872.3L716.7 866.5Z" fill="#bebebe"/><path d="M729.5 867.7L735.3 873.5L729.5 879.3L723.7 873.5Z" fill="#bebebe"/><path d="M735.5 873.7L741.3 879.5L735.5 885.3L729.7 879.5Z" fill="#bebebe"/><path d="M741.5 874.7L747.3 880.5L741.5 886.3L735.7 880.5Z" fill="#bebebe"/><path d="M747.5 878.7L753.3 884.5L747.5 890.3L741.7 884.5Z" fill="#bebebe"/><path d="M753.5 878.7L759.3 884.5L753.5 890.3L747.7 884.5Z" fill="#bebebe"/><path d="M759.5 878.7L765.3 884.5L759.5 890.3L753.7 884.5Z" fill="#bebebe"/><path d="M766.5 877.7L772.3 883.5L766.5 889.3L760.7 883.5Z" fill="#bebebe"/><path d="M772.5 865.7L778.3 871.5L772.5 877.3L766.7 871.5Z" fill="#bebebe"/><path d="M778.5 864.7L784.3 870.5L778.5 876.3L772.7 870.5Z" fill="#bebebe"/><path d="M784.5 858.7L790.3 864.5L784.5 870.3L778.7 864.5Z" fill="#bebebe"/><path d="M790.5 850.7L796.3 856.5L790.5 862.3L784.7 856.5Z" fill="#bebebe"/><path d="M797.5 847.7L803.3 853.5L797.5 859.3L791.7 853.5Z" fill="#bebebe"/><path d="M803.5 846.7L809.3 852.5L803.5 858.3L797.7 852.5Z" fill="#bebebe"/><path d="M809.5 840.7L815.3 846.5L809.5 852.3L803.7 846.5Z" fill="#bebebe"/><path d="M815.5 848.7L821.3 854.5L815.5 860.3L809.7 854.5Z" fill="#bebebe"/><path d="M821.5 867.7L827.3 873.5L821.5 879.3L815.7 873.5Z" fill="#bebebe"/><path d="M827.5 868.7L833.3 874.5L827.5 880.3L821.7 874.5Z" fill="#bebebe"/><path d="M834.5 851.7L840.3 857.5L834.5 863.3L828.7 857.5Z" fill="#bebebe"/><path d="M840.5 840.7L846.3 846.5L840.5 852.3L834.7 846.5Z" fill="#bebebe"/><path d="M846.5 831.7L852.3 837.5L846.5 843.3L840.7 837.5Z" fill="#bebebe"/><path d="M852.5 825.7L858.3 831.5L852.5 837.3L846.7 831.5Z" fill="#bebebe"/><path d="M858.5 826.7L864.3 832.5L858.5 838.3L852.7 832.5Z" fill="#bebebe"/><path d="M864.5 829.7L870.3 835.5L864.5 841.3L858.7 835.5Z" fill="#bebebe"/><path d="M871.5 833.7L877.3 839.5L871.5 845.3L865.7 839.5Z" fill="#bebebe"/><path d="M877.5 841.7L883.3 847.5L877.5 853.3L871.7 847.5Z" fill="#bebebe"/><path d="M883.5 844.7L889.3 850.5L883.5 856.3L877.7 850.5Z" fill="#bebebe"/><path d="M889.5 845.7L895.3 851.5L889.5 857.3L883.7 851.5Z" fill="#bebebe"/><path d="M908.5 843.7L914.3 849.5L908.5 855.3L902.7 849.5Z" fill="#bebebe"/><path d="M926.5 855.7L932.3 861.5L926.5 867.3L920.7 861.5Z" fill="#bebebe"/><path d="M945.5 839.7L951.3 845.5L945.5 851.3L939.7 845.5Z" fill="#bebebe"/><path d="M963.5 805.7L969.3 811.5L963.5 817.3L957.7 811.5Z" fill="#bebebe"/><path d="M982.5 823.7L988.3 829.5L982.5 835.3L976.7 829.5Z" fill="#bebebe"/><path d="M1000.5 837.7L1006.3 843.5L1000.5 849.3L994.7 843.5Z" fill="#bebebe"/><path d="M1019.5 841.7L1025.3 847.5L1019.5 853.3L1013.7 847.5Z" fill="#bebebe"/><path d="M1037.5 847.7L1043.3 853.5L1037.5 859.3L1031.7 853.5Z" fill="#bebebe"/><path d="M1056.5 849.7L1062.3 855.5L1056.5 861.3L1050.7 855.5Z" fill="#bebebe"/><path d="M1074.5 820.7L1080.3 826.5L1074.5 832.3L1068.7 826.5Z" fill="#bebebe"/><path d="M1093.5 777.7L1099.3 783.5L1093.5 789.3L1087.7 783.5Z" fill="#bebebe"/><path d="M1111.5 773.7L1117.3 779.5L1111.5 785.3L1105.7 779.5Z" fill="#bebebe"/><path d="M1130.5 828.7L1136.3 834.5L1130.5 840.3L1124.7 834.5Z" fill="#bebebe"/><path d="M1148.5 864.7L1154.3 870.5L1148.5 876.3L1142.7 870.5Z" fill="#bebebe"/><path d="M1167.5 858.7L1173.3 864.5L1167.5 870.3L1161.7 864.5Z" fill="#bebebe"/><path d="M1185.5 845.7L1191.3 851.5L1185.5 857.3L1179.7 851.5Z" fill="#bebebe"/><path d="M1204.5 851.7L1210.3 857.5L1204.5 863.3L1198.7 857.5Z" fill="#bebebe"/><path d="M1222.5 836.7L1228.3 842.5L1222.5 848.3L1216.7 842.5Z" fill="#bebebe"/><path d="M1241.5 851.7L1247.3 857.5L1241.5 863.3L1235.7 857.5Z" fill="#bebebe"/><path d="M1259.5 857.7L1265.3 863.5L1259.5 869.3L1253.7 863.5Z" fill="#bebebe"/><path d="M1278.5 832.7L1284.3 838.5L1278.5 844.3L1272.7 838.5Z" fill="#bebebe"/><path d="M1297.5 818.7L1303.3 824.5L1297.5 830.3L1291.7 824.5Z" fill="#bebebe"/><path d="M1315.5 819.7L1321.3 825.5L1315.5 831.3L1309.7 825.5Z" fill="#bebebe"/><path d="M1334.5 815.7L1340.3 821.5L1334.5 827.3L1328.7 821.5Z" fill="#bebebe"/><path d="M1352.5 824.7L1358.3 830.5L1352.5 836.3L1346.7 830.5Z" fill="#bebebe"/><path d="M1371.5 801.7L1377.3 807.5L1371.5 813.3L1365.7 807.5Z" fill="#bebebe"/><path d="M1389.5 776.7L1395.3 782.5L1389.5 788.3L1383.7 782.5Z" fill="#bebebe"/><path d="M1408.5 834.7L1414.3 840.5L1408.5 846.3L1402.7 840.5Z" fill="#bebebe"/><path d="M1426.5 833.7L1432.3 839.5L1426.5 845.3L1420.7 839.5Z" fill="#bebebe"/><path d="M1445.5 787.7L1451.3 793.5L1445.5 799.3L1439.7 793.5Z" fill="#bebebe"/></g>
<g><path d="M148.5 826.3L142.98 822.29L145.09 815.81L151.91 815.81L154.02 822.29Z" fill="#87ceeb"/><path d="M155.5 836.3L149.98 832.29L152.09 825.81L158.91 825.81L161.02 832.29Z" fill="#87ceeb"/><path d="M161.5 848.3L155.98 844.29L158.09 837.81L164.91 837.81L167.02 844.29Z" fill="#87ceeb"/><path d="M167.5 852.3L161.98 848.29L164.09 841.81L170.91 841.81L173.02 848.29Z" fill="#87ceeb"/><path d="M173.5 862.3L167.98 858.29L170.09 851.81L176.91 851.81L179.02 858.29Z" fill="#87ceeb"/><path d="M179.5 863.3L173.98 859.29L176.09 852.81L182.91 852.81L185.02 859.29Z" fill="#87ceeb"/><path d="M185.5 853.3L179.98 849.29L182.09 842.81L188.91 842.81L191.02 849.29Z" fill="#87ceeb"/><path d="M192.5 845.3L186.98 841.29L189.09 834.81L195.91 834.81L198.02 841.29Z" fill="#87ceeb"/><path d="M198.5 830.3L192.98 826.29L195.09 819.81L201.91 819.81L204.02 826.29Z" fill="#87ceeb"/><path d="M204.5 818.3L198.98 814.29L201.09 807.81L207.91 807.81L210.02 814.29Z" fill="#87ceeb"/><path d="M210.5 812.3L204.98 808.29L207.09 801.81L213.91 801.81L216.02 808.29Z" fill="#87ceeb"/><path d="M216.5 800.3L210.98 796.29L213.09 789.81L219.91 789.81L222.02 796.29Z" fill="#87ceeb"/><path d="M222.5 824.3L216.98 820.29L219.09 813.81L225.91 813.81L228.02 820.29Z" fill="#87ceeb"/><path d="M229.5 846.3L223.98 842.29L226.09 835.81L232.91 835.81L235.02 842.29Z" fill="#87ceeb"/><path d="M235.5 851.3L229.98 847.29L232.09 840.81L238.91 840.81L241.02 847.29Z" fill="#87ceeb"/><path d="M241.5 864.3L235.98 860.29L238.09 853.81L244.91 853.81L247.02 860.29Z" fill="#87ceeb"/><path d="M247.5 869.3L241.98 865.29L244.09 858.81L250.91 858.81L253.02 865.29Z" fill="#87ceeb"/><path d="M253.5 870.3L247.98 866.29L250.09 859.81L256.91 859.81L259.02 866.29Z" fill="#87ceeb"/><path d="M259.5 869.3L253.98 865.29L256.09 858.81L262.91 858.81L265.02 865.29Z" fill="#87ceeb"/><path d="M266.5 870.3L260.98 866.29L263.09 859.81L269.91 859.81L272.02 866.29Z" fill="#87ceeb"/><path d="M272.5 871.3L266.98 867.29L269.09 860.81L275.91 860.81L278.02 867.29Z" fill="#87ceeb"/><path d="M278.5 874.3L272.98 870.29L275.09 863.81L281.91 863.81L284.02 870.29Z" fill="#87ceeb"/><path d="M284.5 879.3L278.98 875.29L281.09 868.81L287.91 868.81L290.02 875.29Z" fill="#87ceeb"/><path d="M290.5 879.3L284.98 875.29L287.09 868.81L293.91 868.81L296.02 875.29Z" fill="#87ceeb"/><path d="M297.5 879.3L291.98 875.29L294.09 868.81L300.91 868.81L303.02 875.29Z" fill="#87ceeb"/><path d="M303.5 879.3L297.98 875.29L300.09 868.81L306.91 868.81L309.02 875.29Z" fill="#87ceeb"/><path d="M309.5 879.3L303.98 875.29L306.09 868.81L312.91 868.81L315.02 875.29Z" fill="#87ceeb"/><path d="M315.5 876.3L309.98 872.29L312.09 865.81L318.91 865.81L321.02 872.29Z" fill="#87ceeb"/><path d="M321.5 868.3L315.98 864.29L318.09 857.81L324.91 857.81L327.02 864.29Z" fill="#87ceeb"/><path d="M327.5 863.3L321.98 859.29L324.09 852.81L330.91 852.81L333.02 859.29Z" fill="#87ceeb"/><path d="M334.5 855.3L328.98 851.29L331.09 844.81L337.91 844.81L340.02 851.29Z" fill="#87ceeb"/><path d="M340.5 855.3L334.98 851.29L337.09 844.81L343.91 844.81L346.02 851.29Z" fill="#87ceeb"/><path d="M346.5 855.3L340.98 851.29L343.09 844.81L349.91 844.81L352.02 851.29Z" fill="#87ceeb"/><path d="M352.5 855.3L346.98 851.29L349.09 844.81L355.91 844.81L358.02 851.29Z" fill="#87ceeb"/><path d="M358.5 847.3L352.98 843.29L355.09 836.81L361.91 836.81L364.02 843.29Z" fill="#87ceeb"/><path d="M364.5 858.3L358.98 854.29L361.09 847.81L367.91 847.81L370.02 854.29Z" fill="#87ceeb"/><path d="M371.5 861.3L365.98 857.29L368.09 850.81L374.91 850.81L377.02 857.29Z" fill="#87ceeb"/><path d="M377.5 868.3L371.98 864.29L374.09 857.81L380.91 857.81L383.02 864.29Z" fill="#87ceeb"/><path d="M383.5 885.3L377.98 881.29L380.09 874.81L386.91 874.81L389.02 881.29Z" fill="#87ceeb"/><path d="M389.5 880.3L383.98 876.29L386.09 869.81L392.91 869.81L395.02 876.29Z" fill="#87ceeb"/><path d="M395.5 876.3L389.98 872.29L392.09 865.81L398.91 865.81L401.02 872.29Z" fill="#87ceeb"/><path d="M401.5 871.3L395.98 867.29L398.09 860.81L404.91 860.81L407.02 867.29Z" fill="#87ceeb"/><path d="M408.5 858.3L402.98 854.29L405.09 847.81L411.91 847.81L414.02 854.29Z" fill="#87ceeb"/><path d="M414.5 844.3L408.98 840.29L411.09 833.81L417.91 833.81L420.02 840.29Z" fill="#87ceeb"/><path d="M420.5 846.3L414.98 842.29L417.09 835.81L423.91 835.81L426.02 842.29Z" fill="#87ceeb"/><path d="M426.5 862.3L420.98 858.29L423.09 851.81L429.91 851.81L432.02 858.29Z" fill="#87ceeb"/><path d="M432.5 861.3L426.98 857.29L429.09 850.81L435.91 850.81L438.02 857.29Z" fill="#87ceeb"/><path d="M439.5 856.3L433.98 852.29L436.09 845.81L442.91 845.81L445.02 852.29Z" fill="#87ceeb"/><path d="M445.5 857.3L439.98 853.29L442.09 846.81L448.91 846.81L451.02 853.29Z" fill="#87ceeb"/><path d="M451.5 854.3L445.98 850.29L448.09 843.81L454.91 843.81L457.02 850.29Z" fill="#87ceeb"/><path d="M457.5 856.3L451.98 852.29L454.09 845.81L460.91 845.81L463.02 852.29Z" fill="#87ceeb"/><path d="M463.5 855.3L457.98 851.29L460.09 844.81L466.91 844.81L469.02 851.29Z" fill="#87ceeb"/><path d="M469.5 857.3L463.98 853.29L466.09 846.81L472.91 846.81L475.02 853.29Z" fill="#87ceeb"/><path d="M476.5 864.3L470.98 860.29L473.09 853.81L479.91 853.81L482.02 860.29Z" fill="#87ceeb"/><path d="M482.5 861.3L476.98 857.29L479.09 850.81L485.91 850.81L488.02 857.29Z" fill="#87ceeb"/><path d="M488.5 851.3L482.98 847.29L485.09 840.81L491.91 840.81L494.02 847.29Z" fill="#87ceeb"/><path d="M494.5 802.3L488.98 798.29L491.09 791.81L497.91 791.81L500.02 798.29Z" fill="#87ceeb"/><path d="M500.5 746.3L494.98 742.29L497.09 735.81L503.91 735.81L506.02 742.29Z" fill="#87ceeb"/><path d="M506.5 699.3L500.98 695.29L503.09 688.81L509.91 688.81L512.02 695.29Z" fill="#87ceeb"/><path d="M513.5 724.3L507.98 720.29L510.09 713.81L516.91 713.81L519.02 720.29Z" fill="#87ceeb"/><path d="M519.5 773.3L513.98 769.29L516.09 762.81L522.91 762.81L525.02 769.29Z" fill="#87ceeb"/><path d="M525.5 799.3L519.98 795.29L522.09 788.81L528.91 788.81L531.02 795.29Z" fill="#87ceeb"/><path d="M531.5 825.3L525.98 821.29L528.09 814.81L534.91 814.81L537.02 821.29Z" fill="#87ceeb"/><path d="M537.5 845.3L531.98 841.29L534.09 834.81L540.91 834.81L543.02 841.29Z" fill="#87ceeb"/><path d="M543.5 856.3L537.98 852.29L540.09 845.81L546.91 845.81L549.02 852.29Z" fill="#87ceeb"/><path d="M550.5 855.3L544.98 851.29L547.09 844.81L553.91 844.81L556.02 851.29Z" fill="#87ceeb"/><path d="M556.5 853.3L550.98 849.29L553.09 842.81L559.91 842.81L562.02 849.29Z" fill="#87ceeb"/><path d="M562.5 850.3L556.98 846.29L559.09 839.81L565.91 839.81L568.02 846.29Z" fill="#87ceeb"/><path d="M568.5 859.3L562.98 855.29L565.09 848.81L571.91 848.81L574.02 855.29Z" fill="#87ceeb"/><path d="M574.5 865.3L568.98 861.29L571.09 854.81L577.91 854.81L580.02 861.29Z" fill="#87ceeb"/><path d="M580.5 869.3L574.98 865.29L577.09 858.81L583.91 858.81L586.02 865.29Z" fill="#87ceeb"/><path d="M587.5 872.3L581.98 868.29L584.09 861.81L590.91 861.81L593.02 868.29Z" fill="#87ceeb"/><path d="M593.5 876.3L587.98 872.29L590.09 865.81L596.91 865.81L599.02 872.29Z" fill="#87ceeb"/><path d="M599.5 879.3L593.98 875.29L596.09 868.81L602.91 868.81L605.02 875.29Z" fill="#87ceeb"/><path d="M605.5 877.3L599.98 873.29L602.09 866.81L608.91 866.81L611.02 873.29Z" fill="#87ceeb"/><path d="M611.5 879.3L605.98 875.29L608.09 868.81L614.91 868.81L617.02 875.29Z" fill="#87ceeb"/><path d="M618.5 877.3L612.98 873.29L615.09 866.81L621.91 866.81L624.02 873.29Z" fill="#87ceeb"/><path d="M624.5 866.3L618.98 862.29L621.09 855.81L627.91 855.81L630.02 862.29Z" fill="#87ceeb"/><path d="M630.5 858.3L624.98 854.29L627.09 847.81L633.91 847.81L636.02 854.29Z" fill="#87ceeb"/><path d="M636.5 853.3L630.98 849.29L633.09 842.81L639.91 842.81L642.02 849.29Z" fill="#87ceeb"/><path d="M642.5 842.3L636.98 838.29L639.09 831.81L645.91 831.81L648.02 838.29Z" fill="#87ceeb"/><path d="M648.5 843.3L642.98 839.29L645.09 832.81L651.91 832.81L654.02 839.29Z" fill="#87ceeb"/><path d="M655.5 845.3L649.98 841.29L652.09 834.81L658.91 834.81L661.02 841.29Z" fill="#87ceeb"/><path d="M661.5 841.3L655.98 837.29L658.09 830.81L664.91 830.81L667.02 837.29Z" fill="#87ceeb"/><path d="M667.5 855.3L661.98 851.29L664.09 844.81L670.91 844.81L673.02 851.29Z" fill="#87ceeb"/><path d="M673.5 857.3L667.98 853.29L670.09 846.81L676.91 846.81L679.02 853.29Z" fill="#87ceeb"/><path d="M679.5 871.3L673.98 867.29L676.09 860.81L682.91 860.81L685.02 867.29Z" fill="#87ceeb"/><path d="M685.5 870.3L679.98 866.29L682.09 859.81L688.91 859.81L691.02 866.29Z" fill="#87ceeb"/><path d="M692.5 869.3L686.98 865.29L689.09 858.81L695.91 858.81L698.02 865.29Z" fill="#87ceeb"/><path d="M698.5 870.3L692.98 866.29L695.09 859.81L701.91 859.81L704.02 866.29Z" fill="#87ceeb"/><path d="M704.5 868.3L698.98 864.29L701.09 857.81L707.91 857.81L710.02 864.29Z" fill="#87ceeb"/><path d="M710.5 877.3L704.98 873.29L707.09 866.81L713.91 866.81L716.02 873.29Z" fill="#87ceeb"/><path d="M716.5 881.3L710.98 877.29L713.09 870.81L719.91 870.81L722.02 877.29Z" fill="#87ceeb"/><path d="M722.5 872.3L716.98 868.29L719.09 861.81L725.91 861.81L728.02 868.29Z" fill="#87ceeb"/><path d="M729.5 871.3L723.98 867.29L726.09 860.81L732.91 860.81L735.02 867.29Z" fill="#87ceeb"/><path d="M735.5 880.3L729.98 876.29L732.09 869.81L738.91 869.81L741.02 876.29Z" fill="#87ceeb"/><path d="M741.5 885.3L735.98 881.29L738.09 874.81L744.91 874.81L747.02 881.29Z" fill="#87ceeb"/><path d="M747.5 886.3L741.98 882.29L744.09 875.81L750.91 875.81L753.02 882.29Z" fill="#87ceeb"/><path d="M753.5 885.3L747.98 881.29L750.09 874.81L756.91 874.81L759.02 881.29Z" fill="#87ceeb"/><path d="M759.5 889.3L753.98 885.29L756.09 878.81L762.91 878.81L765.02 885.29Z" fill="#87ceeb"/><path d="M766.5 890.3L760.98 886.29L763.09 879.81L769.91 879.81L772.02 886.29Z" fill="#87ceeb"/><path d="M772.5 883.3L766.98 879.29L769.09 872.81L775.91 872.81L778.02 879.29Z" fill="#87ceeb"/><path d="M778.5 881.3L772.98 877.29L775.09 870.81L781.91 870.81L784.02 877.29Z" fill="#87ceeb"/><path d="M784.5 877.3L778.98 873.29L781.09 866.81L787.91 866.81L790.02 873.29Z" fill="#87ceeb"/><path d="M790.5 867.3L784.98 863.29L787.09 856.81L793.91 856.81L796.02 863.29Z" fill="#87ceeb"/><path d="M797.5 860.3L791.98 856.29L794.09 849.81L800.91 849.81L803.02 856.29Z" fill="#87ceeb"/><path d="M803.5 859.3L797.98 855.29L800.09 848.81L806.91 848.81L809.02 855.29Z" fill="#87ceeb"/><path d="M809.5 850.3L803.98 846.29L806.09 839.81L812.91 839.81L815.02 846.29Z" fill="#87ceeb"/><path d="M815.5 858.3L809.98 854.29L812.09 847.81L818.91 847.81L821.02 854.29Z" fill="#87ceeb"/><path d="M821.5 876.3L815.98 872.29L818.09 865.81L824.91 865.81L827.02 872.29Z" fill="#87ceeb"/><path d="M827.5 886.3L821.98 882.29L824.09 875.81L830.91 875.81L833.02 882.29Z" fill="#87ceeb"/><path d="M834.5 868.3L828.98 864.29L831.09 857.81L837.91 857.81L840.02 864.29Z" fill="#87ceeb"/><path d="M840.5 864.3L834.98 860.29L837.09 853.81L843.91 853.81L846.02 860.29Z" fill="#87ceeb"/><path d="M846.5 861.3L840.98 857.29L843.09 850.81L849.91 850.81L852.02 857.29Z" fill="#87ceeb"/><path d="M852.5 858.3L846.98 854.29L849.09 847.81L855.91 847.81L858.02 854.29Z" fill="#87ceeb"/><path d="M858.5 860.3L852.98 856.29L855.09 849.81L861.91 849.81L864.02 856.29Z" fill="#87ceeb"/><path d="M864.5 865.3L858.98 861.29L861.09 854.81L867.91 854.81L870.02 861.29Z" fill="#87ceeb"/><path d="M871.5 868.3L865.98 864.29L868.09 857.81L874.91 857.81L877.02 864.29Z" fill="#87ceeb"/><path d="M877.5 872.3L871.98 868.29L874.09 861.81L880.91 861.81L883.02 868.29Z" fill="#87ceeb"/><path d="M883.5 875.3L877.98 871.29L880.09 864.81L886.91 864.81L889.02 871.29Z" fill="#87ceeb"/><path d="M889.5 872.3L883.98 868.29L886.09 861.81L892.91 861.81L895.02 868.29Z" fill="#87ceeb"/><path d="M908.5 871.3L902.98 867.29L905.09 860.81L911.91 860.81L914.02 867.29Z" fill="#87ceeb"/><path d="M926.5 875.3L920.98 871.29L923.09 864.81L929.91 864.81L932.02 871.29Z" fill="#87ceeb"/><path d="M945.5 863.3L939.98 859.29L942.09 852.81L948.91 852.81L951.02 859.29Z" fill="#87ceeb"/><path d="M963.5 838.3L957.98 834.29L960.09 827.81L966.91 827.81L969.02 834.29Z" fill="#87ceeb"/><path d="M982.5 851.3L976.98 847.29L979.09 840.81L985.91 840.81L988.02 847.29Z" fill="#87ceeb"/><path d="M1000.5 866.3L994.98 862.29L997.09 855.81L1003.91 855.81L1006.02 862.29Z" fill="#87ceeb"/><path d="M1019.5 871.3L1013.98 867.29L1016.09 860.81L1022.91 860.81L1025.02 867.29Z" fill="#87ceeb"/><path d="M1037.5 874.3L1031.98 870.29L1034.09 863.81L1040.91 863.81L1043.02 870.29Z" fill="#87ceeb"/><path d="M1056.5 874.3L1050.98 870.29L1053.09 863.81L1059.91 863.81L1062.02 870.29Z" fill="#87ceeb"/><path d="M1074.5 843.3L1068.98 839.29L1071.09 832.81L1077.91 832.81L1080.02 839.29Z" fill="#87ceeb"/><path d="M1093.5 806.3L1087.98 802.29L1090.09 795.81L1096.91 795.81L1099.02 802.29Z" fill="#87ceeb"/><path d="M1111.5 783.3L1105.98 779.29L1108.09 772.81L1114.91 772.81L1117.02 779.29Z" fill="#87ceeb"/><path d="M1130.5 851.3L1124.98 847.29L1127.09 840.81L1133.91 840.81L1136.02 847.29Z" fill="#87ceeb"/><path d="M1148.5 878.3L1142.98 874.29L1145.09 867.81L1151.91 867.81L1154.02 874.29Z" fill="#87ceeb"/><path d="M1167.5 876.3L1161.98 872.29L1164.09 865.81L1170.91 865.81L1173.02 872.29Z" fill="#87ceeb"/><path d="M1185.5 870.3L1179.98 866.29L1182.09 859.81L1188.91 859.81L1191.02 866.29Z" fill="#87ceeb"/><path d="M1204.5 875.3L1198.98 871.29L1201.09 864.81L1207.91 864.81L1210.02 871.29Z" fill="#87ceeb"/><path d="M1222.5 860.3L1216.98 856.29L1219.09 849.81L1225.91 849.81L1228.02 856.29Z" fill="#87ceeb"/><path d="M1241.5 848.3L1235.98 844.29L1238.09 837.81L1244.91 837.81L1247.02 844.29Z" fill="#87ceeb"/><path d="M1259.5 858.3L1253.98 854.29L1256.09 847.81L1262.91 847.81L1265.02 854.29Z" fill="#87ceeb"/><path d="M1278.5 865.3L1272.98 861.29L1275.09 854.81L1281.91 854.81L1284.02 861.29Z" fill="#87ceeb"/><path d="M1297.5 854.3L1291.98 850.29L1294.09 843.81L1300.91 843.81L1303.02 850.29Z" fill="#87ceeb"/><path d="M1315.5 856.3L1309.98 852.29L1312.09 845.81L1318.91 845.81L1321.02 852.29Z" fill="#87ceeb"/><path d="M1334.5 854.3L1328.98 850.29L1331.09 843.81L1337.91 843.81L1340.02 850.29Z" fill="#87ceeb"/><path d="M1352.5 855.3L1346.98 851.29L1349.09 844.81L1355.91 844.81L1358.02 851.29Z" fill="#87ceeb"/><path d="M1371.5 830.3L1365.98 826.29L1368.09 819.81L1374.91 819.81L1377.02 826.29Z" fill="#87ceeb"/><path d="M1389.5 789.3L1383.98 785.29L1386.09 778.81L1392.91 778.81L1395.02 785.29Z" fill="#87ceeb"/><path d="M1408.5 847.3L1402.98 843.29L1405.09 836.81L1411.91 836.81L1414.02 843.29Z" fill="#87ceeb"/><path d="M1426.5 856.3L1420.98 852.29L1423.09 845.81L1429.91 845.81L1432.02 852.29Z" fill="#87ceeb"/><path d="M1445.5 807.3L1439.98 803.29L1442.09 796.81L1448.91 796.81L1451.02 803.29Z" fill="#87ceeb"/></g>
<g><path d="M149.9 796.5h11.2M155.5 790.9v11.2M150 791l11 11M150 802l11 -11" stroke="#ffa500" stroke-width="1.1" fill="none"/><path d="M155.9 823.5h11.2M161.5 817.9v11.2M156 818l11 11M156 829l11 -11" stroke="#ffa500" stroke-width="1.1" fill="none"/><path d="M161.9 839.5h11.2M167.5 833.9v11.2M162 834l11 11M162 845l11 -11" stroke="#ffa500" stroke-width="1.1" fill="none"/><path d="M167.9 851.5h11.2M173.5 845.9v11.2M168 846l11 11M168 857l11 -11" stroke="#ffa500" stroke-width="1.1" fill="none"/><path d="M173.9 852.5h11.2M179.5 846.9v11.2M174 847l11 11M174 858l11 -11" stroke="#ffa500" stroke-width="1.1" fill="none"/><path d="M179.9 853.5h11.2M185.5 847.9v11.2M180 848l11 11M180 859l11 -11" stroke="#ffa500" stroke-width="1.1" fill="none"/><path d="M186.9 845.5h11.2M192.5 839.9v11.2M187 840l11 11M187 851l11 -11" stroke="#ffa500" stroke-width="1.1" fill="none"/><path d="M192.9 835.5h11.2M198.5 829.9v11.2M193 830l11 11M193 841l11 -11" stroke="#ffa500" stroke-width="1.1" fill="none"/><path d="M198.9 832.5h11.2M204.5 826.9v11.2M199 827l11 11M199 838l11 -11" stroke="#ffa500" stroke-width="1.1" fill="none"/><path d="M204.9 826.5h11.2M210.5 820.9v11.2M205 821l11 11M205 832l11 -11" stroke="#ffa500" stroke-width="1.1" fill="none"/><path d="M210.9 824.5h11.2M216.5 818.9v11.2M211 819l11 11M211 830l11 -11" stroke="#ffa500" stroke-width="1.1" fill="none"/><path d="M216.9 825.5h11.2M222.5 819.9v11.2M217 820l11 11M217 831l11 -11" stroke="#ffa500" stroke-width="1.1" fill="none"/><path d="M223.9 839.5h11.2M229.5 833.9v11.2M224 834l11 11M224 845l11 -11" stroke="#ffa500" stroke-width="1.1" fill="none"/><path d="M229.9 850.5h11.2M235.5 844.9v11.2M230 845l11 11M230 856l11 -11" stroke="#ffa500" stroke-width="1.1" fill="none"/><path d="M235.9 854.5h11.2M241.5 848.9v11.2M236 849l11 11M236 860l11 -11" stroke="#ffa500" stroke-width="1.1" fill="none"/><path d="M241.9 857.5h11.2M247.5 851.9v11.2M242 852l11 11M242 863l11 -11" stroke="#ffa500" stroke-width="1.1" fill="none"/><path d="M247.9 858.5h11.2M253.5 852.9v11.2M248 853l11 11M248 864l11 -11" stroke="#ffa500" stroke-width="1.1" fill="none"/><path d="M253.9 860.5h11.2M259.5 854.9v11.2M254 855l11 11M254 866l11 -11" stroke="#ffa500" stroke-width="1.1" fill="none"/><path d="M260.9 867.5h11.2M266.5 861.9v11.2M261 862l11 11M261 873l11 -11" stroke="#ffa500" stroke-width="1.1" fill="none"/><path d="M266.9 869.5h11.2M272.5 863.9v11.2M267 864l11 11M267 875l11 -11" stroke="#ffa500" stroke-width="1.1" fill="none"/><path d="M272.9 874.5h11.2M278.5 868.9v11.2M273 869l11 11M273 880l11 -11" stroke="#ffa500" stroke-width="1.1" fill="none"/><path d="M278.9 876.5h11.2M284.5 870.9v11.2M279 871l11 11M279 882l11 -11" stroke="#ffa500" stroke-width="1.1" fill="none"/><path d="M284.9 881.5h11.2M290.5 875.9v11.2M285 876l11 11M285 887l11 -11" stroke="#ffa500" stroke-width="1.1" fill="none"/><path d="M291.9 883.5h11.2M297.5 877.9v11.2M292 878l11 11M292 889l11 -11" stroke="#ffa500" stroke-width="1.1" fill="none"/><path d="M297.9 887.5h11.2M303.5 881.9v11.2M298 882l11 11M298 893l11 -11" stroke="#ffa500" stroke-width="1.1" fill="none"/><path d="M303.9 888.5h11.2M309.5 882.9v11.2M304 883l11 11M304 894l11 -11" stroke="#ffa500" stroke-width="1.1" fill="none"/><path d="M309.9 886.5h11.2M315.5 880.9v11.2M310 881l11 11M310 892l11 -11" stroke="#ffa500" stroke-width="1.1" fill="none"/><path d="M315.9 882.5h11.2M321.5 876.9v11.2M316 877l11 11M316 888l11 -11" stroke="#ffa500" stroke-width="1.1" fill="none"/><path d="M321.9 874.5h11.2M327.5 868.9v11.2M322 869l11 11M322 880l11 -11" stroke="#ffa500" stroke-width="1.1" fill="none"/><path d="M328.9 862.5h11.2M334.5 856.9v11.2M329 857l11 11M329 868l11 -11" stroke="#ffa500" stroke-width="1.1" fill="none"/><path d="M334.9 859.5h11.2M340.5 853.9v11.2M335 854l11 11M335 865l11 -11" stroke="#ffa500" stroke-width="1.1" fill="none"/><path d="M340.9 853.5h11.2M346.5 847.9v11.2M341 848l11 11M341 859l11 -11" stroke="#ffa500" stroke-width="1.1" fill="none"/><path d="M346.9 850.5h11.2M352.5 844.9v11.2M347 845l11 11M347 856l11 -11" stroke="#ffa500" stroke-width="1.1" fill="none"/><path d="M352.9 856.5h11.2M358.5 850.9v11.2M353 851l11 11M353 862l11 -11" stroke="#ffa500" stroke-width="1.1" fill="none"/><path d="M358.9 857.5h11.2M364.5 851.9v11.2M359 852l11 11M359 863l11 -11" stroke="#ffa500" stroke-width="1.1" fill="none"/><path d="M365.9 862.5h11.2M371.5 856.9v11.2M366 857l11 11M366 868l11 -11" stroke="#ffa500" stroke-width="1.1" fill="none"/><path d="M383.9 870.5h11.2M389.5 864.9v11.2M384 865l11 11M384 876l11 -11" stroke="#ffa500" stroke-width="1.1" fill="none"/><path d="M402.9 867.5h11.2M408.5 861.9v11.2M403 862l11 11M403 873l11 -11" stroke="#ffa500" stroke-width="1.1" fill="none"/><path d="M420.9 865.5h11.2M426.5 859.9v11.2M421 860l11 11M421 871l11 -11" stroke="#ffa500" stroke-width="1.1" fill="none"/><path d="M439.9 865.5h11.2M445.5 859.9v11.2M440 860l11 11M440 871l11 -11" stroke="#ffa500" stroke-width="1.1" fill="none"/><path d="M457.9 868.5h11.2M463.5 862.9v11.2M458 863l11 11M458 874l11 -11" stroke="#ffa500" stroke-width="1.1" fill="none"/><path d="M476.9 861.5h11.2M482.5 855.9v11.2M477 856l11 11M477 867l11 -11" stroke="#ffa500" stroke-width="1.1" fill="none"/><path d="M494.9 825.5h11.2M500.5 819.9v11.2M495 820l11 11M495 831l11 -11" stroke="#ffa500" stroke-width="1.1" fill="none"/><path d="M513.9 817.5h11.2M519.5 811.9v11.2M514 812l11 11M514 823l11 -11" stroke="#ffa500" stroke-width="1.1" fill="none"/><path d="M531.9 831.5h11.2M537.5 825.9v11.2M532 826l11 11M532 837l11 -11" stroke="#ffa500" stroke-width="1.1" fill="none"/><path d="M550.9 841.5h11.2M556.5 835.9v11.2M551 836l11 11M551 847l11 -11" stroke="#ffa500" stroke-width="1.1" fill="none"/><path d="M568.9 851.5h11.2M574.5 845.9v11.2M569 846l11 11M569 857l11 -11" stroke="#ffa500" stroke-width="1.1" fill="none"/><path d="M587.9 870.5h11.2M593.5 864.9v11.2M588 865l11 11M588 876l11 -11" stroke="#ffa500" stroke-width="1.1" fill="none"/><path d="M605.9 875.5h11.2M611.5 869.9v11.2M606 870l11 11M606 881l11 -11" stroke="#ffa500" stroke-width="1.1" fill="none"/><path d="M624.9 847.5h11.2M630.5 841.9v11.2M625 842l11 11M625 853l11 -11" stroke="#ffa500" stroke-width="1.1" fill="none"/><path d="M642.9 816.5h11.2M648.5 810.9v11.2M643 811l11 11M643 822l11 -11" stroke="#ffa500" stroke-width="1.1" fill="none"/><path d="M661.9 815.5h11.2M667.5 809.9v11.2M662 810l11 11M662 821l11 -11" stroke="#ffa500" stroke-width="1.1" fill="none"/><path d="M679.9 828.5h11.2M685.5 822.9v11.2M680 823l11 11M680 834l11 -11" stroke="#ffa500" stroke-width="1.1" fill="none"/><path d="M698.9 851.5h11.2M704.5 845.9v11.2M699 846l11 11M699 857l11 -11" stroke="#ffa500" stroke-width="1.1" fill="none"/><path d="M716.9 871.5h11.2M722.5 865.9v11.2M717 866l11 11M717 877l11 -11" stroke="#ffa500" stroke-width="1.1" fill="none"/><path d="M735.9 882.5h11.2M741.5 876.9v11.2M736 877l11 11M736 888l11 -11" stroke="#ffa500" stroke-width="1.1" fill="none"/><path d="M753.9 882.5h11.2M759.5 876.9v11.2M754 877l11 11M754 888l11 -11" stroke="#ffa500" stroke-width="1.1" fill="none"/><path d="M772.9 865.5h11.2M778.5 859.9v11.2M773 860l11 11M773 871l11 -11" stroke="#ffa500" stroke-width="1.1" fill="none"/><path d="M791.9 858.5h11.2M797.5 852.9v11.2M792 853l11 11M792 864l11 -11" stroke="#ffa500" stroke-width="1.1" fill="none"/><path d="M809.9 868.5h11.2M815.5 862.9v11.2M810 863l11 11M810 874l11 -11" stroke="#ffa500" stroke-width="1.1" fill="none"/><path d="M828.9 869.5h11.2M834.5 863.9v11.2M829 864l11 11M829 875l11 -11" stroke="#ffa500" stroke-width="1.1" fill="none"/><path d="M846.9 870.5h11.2M852.5 864.9v11.2M847 865l11 11M847 876l11 -11" stroke="#ffa500" stroke-width="1.1" fill="none"/><path d="M865.9 876.5h11.2M871.5 870.9v11.2M866 871l11 11M866 882l11 -11" stroke="#ffa500" stroke-width="1.1" fill="none"/><path d="M883.9 881.5h11.2M889.5 875.9v11.2M884 876l11 11M884 887l11 -11" stroke="#ffa500" stroke-width="1.1" fill="none"/><path d="M902.9 881.5h11.2M908.5 875.9v11.2M903 876l11 11M903 887l11 -11" stroke="#ffa500" stroke-width="1.1" fill="none"/><path d="M920.9 873.5h11.2M926.5 867.9v11.2M921 868l11 11M921 879l11 -11" stroke="#ffa500" stroke-width="1.1" fill="none"/><path d="M939.9 866.5h11.2M945.5 860.9v11.2M940 861l11 11M940 872l11 -11" stroke="#ffa500" stroke-width="1.1" fill="none"/><path d="M957.9 873.5h11.2M963.5 867.9v11.2M958 868l11 11M958 879l11 -11" stroke="#ffa500" stroke-width="1.1" fill="none"/><path d="M976.9 868.5h11.2M982.5 862.9v11.2M977 863l11 11M977 874l11 -11" stroke="#ffa500" stroke-width="1.1" fill="none"/><path d="M994.9 861.5h11.2M1000.5 855.9v11.2M995 856l11 11M995 867l11 -11" stroke="#ffa500" stroke-width="1.1" fill="none"/><path d="M1013.9 862.5h11.2M1019.5 856.9v11.2M1014 857l11 11M1014 868l11 -11" stroke="#ffa500" stroke-width="1.1" fill="none"/><path d="M1031.9 865.5h11.2M1037.5 859.9v11.2M1032 860l11 11M1032 871l11 -11" stroke="#ffa500" stroke-width="1.1" fill="none"/><path d="M1050.9 871.5h11.2M1056.5 865.9v11.2M1051 866l11 11M1051 877l11 -11" stroke="#ffa500" stroke-width="1.1" fill="none"/><path d="M1068.9 859.5h11.2M1074.5 853.9v11.2M1069 854l11 11M1069 865l11 -11" stroke="#ffa500" stroke-width="1.1" fill="none"/><path d="M1087.9 846.5h11.2M1093.5 840.9v11.2M1088 841l11 11M1088 852l11 -11" stroke="#ffa500" stroke-width="1.1" fill="none"/><path d="M1105.9 852.5h11.2M1111.5 846.9v11.2M1106 847l11 11M1106 858l11 -11" stroke="#ffa500" stroke-width="1.1" fill="none"/><path d="M1124.9 853.5h11.2M1130.5 847.9v11.2M1125 848l11 11M1125 859l11 -11" stroke="#ffa500" stroke-width="1.1" fill="none"/><path d="M1142.9 860.5h11.2M1148.5 854.9v11.2M1143 855l11 11M1143 866l11 -11" stroke="#ffa500" stroke-width="1.1" fill="none"/><path d="M1161.9 865.5h11.2M1167.5 859.9v11.2M1162 860l11 11M1162 871l11 -11" stroke="#ffa500" stroke-width="1.1" fill="none"/><path d="M1179.9 877.5h11.2M1185.5 871.9v11.2M1180 872l11 11M1180 883l11 -11" stroke="#ffa500" stroke-width="1.1" fill="none"/><path d="M1198.9 883.5h11.2M1204.5 877.9v11.2M1199 878l11 11M1199 889l11 -11" stroke="#ffa500" stroke-width="1.1" fill="none"/><path d="M1216.9 873.5h11.2M1222.5 867.9v11.2M1217 868l11 11M1217 879l11 -11" stroke="#ffa500" stroke-width="1.1" fill="none"/><path d="M1235.9 851.5h11.2M1241.5 845.9v11.2M1236 846l11 11M1236 857l11 -11" stroke="#ffa500" stroke-width="1.1" fill="none"/><path d="M1253.9 852.5h11.2M1259.5 846.9v11.2M1254 847l11 11M1254 858l11 -11" stroke="#ffa500" stroke-width="1.1" fill="none"/><path d="M1272.9 855.5h11.2M1278.5 849.9v11.2M1273 850l11 11M1273 861l11 -11" stroke="#ffa500" stroke-width="1.1" fill="none"/><path d="M1291.9 848.5h11.2M1297.5 842.9v11.2M1292 843l11 11M1292 854l11 -11" stroke="#ffa500" stroke-width="1.1" fill="none"/><path d="M1309.9 857.5h11.2M1315.5 851.9v11.2M1310 852l11 11M1310 863l11 -11" stroke="#ffa500" stroke-width="1.1" fill="none"/><path d="M1328.9 872.5h11.2M1334.5 866.9v11.2M1329 867l11 11M1329 878l11 -11" stroke="#ffa500" stroke-width="1.1" fill="none"/><path d="M1365.9 867.5h11.2M1371.5 861.9v11.2M1366 862l11 11M1366 873l11 -11" stroke="#ffa500" stroke-width="1.1" fill="none"/><path d="M1402.9 859.5h11.2M1408.5 853.9v11.2M1403 854l11 11M1403 865l11 -11" stroke="#ffa500" stroke-width="1.1" fill="none"/><path d="M1439.9 855.5h11.2M1445.5 849.9v11.2M1440 850l11 11M1440 861l11 -11" stroke="#ffa500" stroke-width="1.1" fill="none"/></g>
</svg></body></html>
